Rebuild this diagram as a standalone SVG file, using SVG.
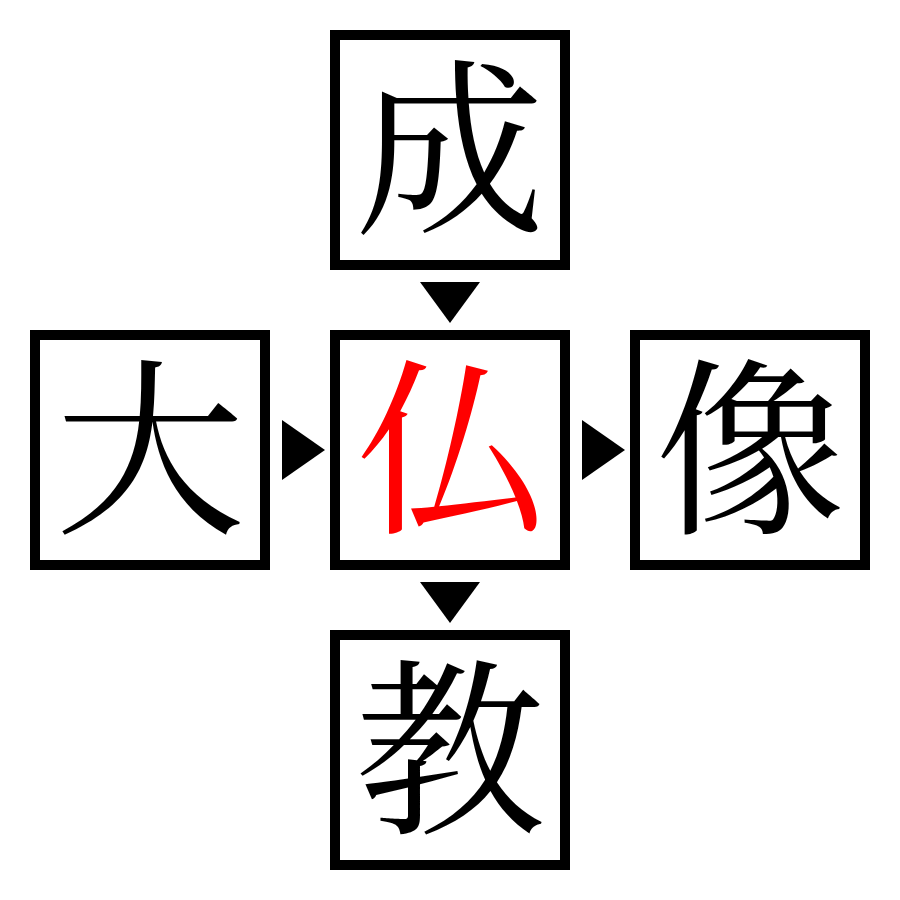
<svg xmlns="http://www.w3.org/2000/svg" width="900" height="900" viewBox="0 0 900 900">
<style>
.box{fill:#fff;stroke:#000;stroke-width:10}
.ch{font-family:"Noto Serif CJK JP","Noto Sans CJK JP",serif;font-size:190px;text-anchor:middle;dominant-baseline:central;fill:#000}
.red{fill:#ff0000}
.arr{fill:#000}
</style>
<rect width="900" height="900" fill="#fff"/>
<g id="connectors">
<polygon class="arr" points="420,282 480,282 450,323"/>
<polygon class="arr" points="420,582 480,582 450,623"/>
<polygon class="arr" points="282,420 282,480 325,450"/>
<polygon class="arr" points="582,420 582,480 625,450"/>
</g>
<g id="node-top"><rect class="box" x="335" y="35" width="230" height="230"/><text class="ch" x="450" y="136">成</text></g>
<g id="node-left"><rect class="box" x="35" y="335" width="230" height="230"/><text class="ch" x="150" y="436">大</text></g>
<g id="node-center"><rect class="box" x="335" y="335" width="230" height="230"/><text class="ch red" x="450" y="436">仏</text></g>
<g id="node-right"><rect class="box" x="635" y="335" width="230" height="230"/><text class="ch" x="750" y="436">像</text></g>
<g id="node-bottom"><rect class="box" x="335" y="635" width="230" height="230"/><text class="ch" x="450" y="736">教</text></g>
</svg>
